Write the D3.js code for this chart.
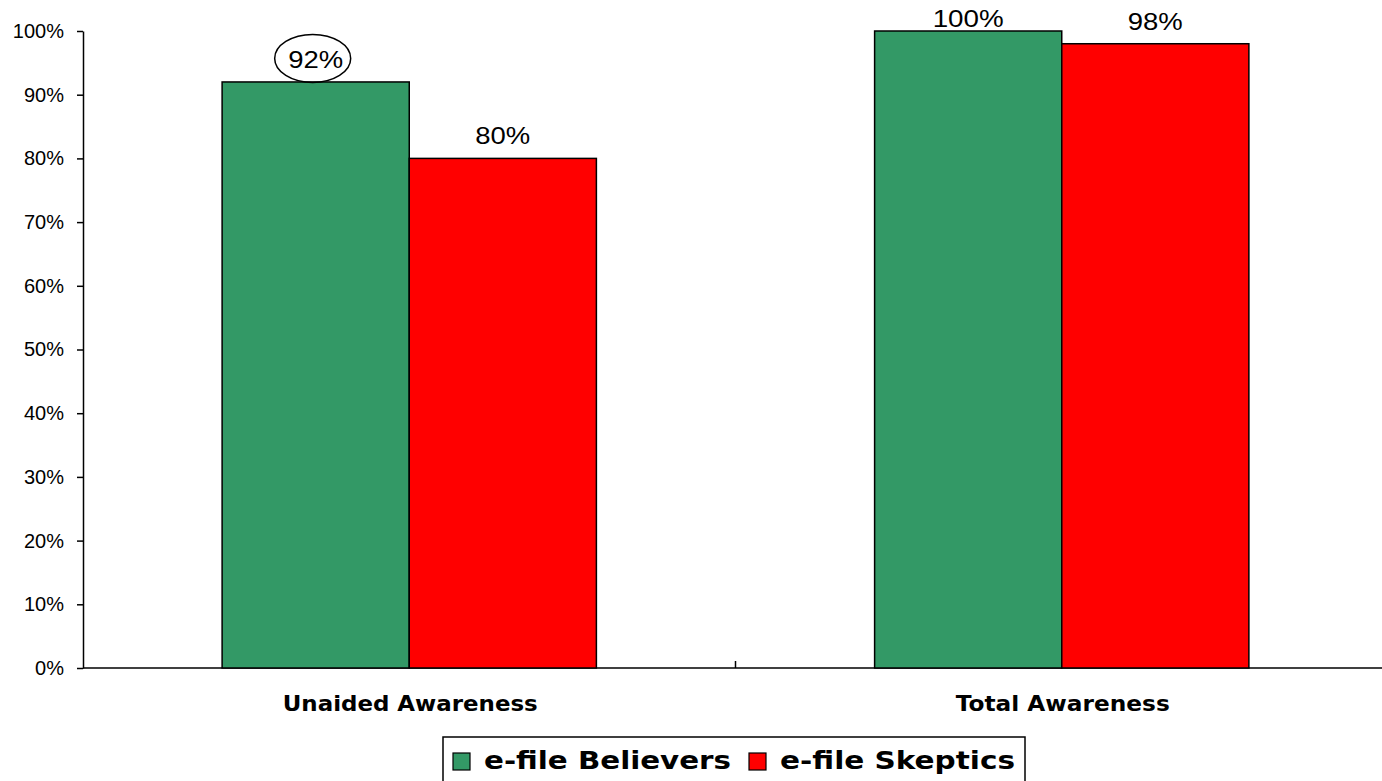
<!DOCTYPE html>
<html><head><meta charset="utf-8">
<script src="https://cdn.jsdelivr.net/npm/d3@7"></script>
<style>body{margin:0;background:#fff}svg{display:block}</style>
</head><body>
<script>
const categories = ["Unaided Awareness", "Total Awareness"];
const seriesNames = ["e-file Believers", "e-file Skeptics"];
const believers = [92, 100];
const skeptics = [80, 98];
const tickValues = [0,10,20,30,40,50,60,70,80,90,100];
const colors = ["#339966", "#FF0000"];

const W = 1382, H = 781;
const svg = d3.select("body").append("svg").attr("width", W).attr("height", H);
const x0 = 83, x1 = 1388, y0 = 668, y1 = 31;
const x = d3.scaleBand().domain(categories).range([x0, x1]);
const y = d3.scaleLinear().domain([0, 100]).range([y0, y1]);
const sans = "Liberation Sans, Arial, sans-serif";
const verd = "DejaVu Sans, Verdana, sans-serif";

// y axis
const yAxis = d3.axisLeft(y).tickValues(tickValues).tickFormat(d => d + "%").tickSize(6).tickSizeOuter(0).tickPadding(13);
const gy = svg.append("g").attr("transform", `translate(${x0},0)`).call(yAxis);
gy.select(".domain").attr("stroke", "#000").attr("stroke-width", 1.5);
gy.selectAll(".tick line").attr("stroke", "#000").attr("stroke-width", 1.5);
gy.selectAll(".tick text").attr("font-family", sans).attr("font-size", 20).attr("fill", "#000");

// x axis baseline
svg.append("line").attr("x1", x0).attr("x2", x1).attr("y1", y0).attr("y2", y0).attr("stroke", "#000").attr("stroke-width", 1.5);
svg.append("line").attr("x1", x0 + x.bandwidth()).attr("x2", x0 + x.bandwidth()).attr("y1", y0).attr("y2", y0 - 7).attr("stroke", "#000").attr("stroke-width", 1.5);

const data = categories.map((c, i) => ({cat: c, vals: [believers[i], skeptics[i]]}));
const barW = x.bandwidth() * 0.2868;
data.forEach(d => {
  const cx = x(d.cat) + x.bandwidth() / 2;
  d.vals.forEach((v, j) => {
    const bx = cx - barW + j * barW;
    svg.append("rect").attr("x", bx).attr("y", y(v)).attr("width", barW).attr("height", y0 - y(v))
      .attr("fill", colors[j]).attr("stroke", "#000").attr("stroke-width", 1.5);
    const s = v + "%";
    const ty = Math.max(27, y(v) - 14);
    svg.append("text").attr("x", bx + barW / 2).attr("y", ty).attr("text-anchor", "middle")
      .attr("font-family", sans).attr("font-size", 23).attr("fill", "#000")
      .attr("textLength", s.length === 4 ? 71 : 55).attr("lengthAdjust", "spacingAndGlyphs").text(s);
    if (d.cat === "Unaided Awareness" && j === 0) {
      svg.append("ellipse").attr("cx", bx + barW / 2 - 3).attr("cy", y(v) - 23.5).attr("rx", 38).attr("ry", 24)
        .attr("fill", "none").attr("stroke", "#000").attr("stroke-width", 1.5);
    }
  });
  svg.append("text").attr("x", cx + 1).attr("y", 711).attr("text-anchor", "middle")
    .attr("font-family", verd).attr("font-weight", "bold").attr("font-size", 20.5)
    .attr("textLength", d.cat === "Unaided Awareness" ? 255 : 214).attr("lengthAdjust", "spacingAndGlyphs").text(d.cat);
});

// legend
const lg = svg.append("g");
lg.append("rect").attr("x", 443).attr("y", 737).attr("width", 582).attr("height", 50).attr("fill", "#fff").attr("stroke", "#000").attr("stroke-width", 1.5);
const legX = [453, 749];
const legLen = [247, 235];
seriesNames.forEach((s, j) => {
  lg.append("rect").attr("x", legX[j]).attr("y", 753).attr("width", 17).attr("height", 17).attr("fill", colors[j]).attr("stroke", "#000").attr("stroke-width", 1.2);
  lg.append("text").attr("x", legX[j] + 31).attr("y", 769).attr("font-family", verd).attr("font-weight", "bold").attr("font-size", 24)
    .attr("textLength", legLen[j]).attr("lengthAdjust", "spacingAndGlyphs").text(s);
});
</script>
</body></html>
